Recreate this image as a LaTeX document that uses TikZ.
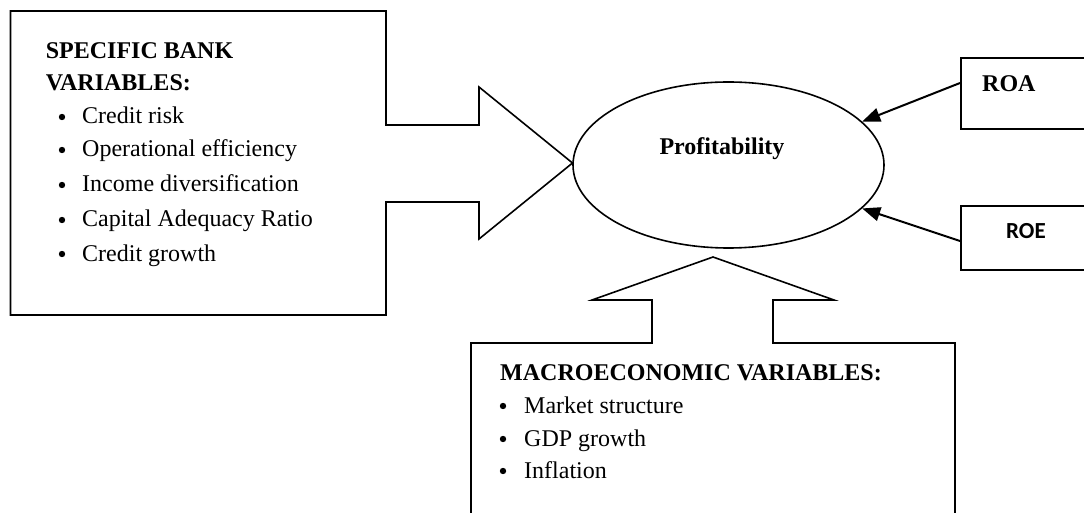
\documentclass[tikz,border=0pt]{standalone}
\usepackage{fontspec}
\setmainfont{Liberation Serif}
\newfontfamily\calfont{Carlito}
\usetikzlibrary{shapes.geometric,arrows.meta}
\begin{document}
\begin{tikzpicture}[x=1pt,y=1pt,
  outline/.style={draw=black,line width=1.6pt,line join=miter},
  txt/.style={anchor=base west,inner sep=0pt,font=\fontsize{24}{28}\selectfont},
  hd/.style={txt,font=\fontsize{24}{28}\selectfont\bfseries},
  bul/.style={circle,fill=black,inner sep=0pt,minimum size=6.4pt},
  conn/.style={draw=black,line width=2pt,-{Triangle[length=18pt,width=14pt]}}]
\useasboundingbox (0,0) rectangle (1084,512);
% left box with right arrow
\draw[outline] (10.5,501) -- (386,501) -- (386,387) -- (479,387) -- (479,425)
  -- (572.5,349) -- (479,273) -- (479,310) -- (386,310) -- (386,197)
  -- (10.5,197) -- cycle;
% bottom box with up arrow
\draw[outline] (471,-4) -- (471,169) -- (652,169) -- (652,212) -- (592,212)
  -- (713,255) -- (834,212) -- (773,212) -- (773,169) -- (955,169) -- (955,-4);
% ellipse
\node[ellipse,draw=black,line width=1.6pt,minimum width=311pt,minimum height=166pt,inner sep=0pt] (prof) at (728.5,347) {};
\node[hd,anchor=base] (proftext) at (722,357) {Profitability};
% ROA / ROE boxes
\node[outline,anchor=north west,minimum width=140pt,minimum height=71pt,inner sep=0pt] (roa) at (960,455) {};
\node[outline,anchor=north west,minimum width=140pt,minimum height=64pt,inner sep=0pt] (roe) at (960,307) {};
\node[hd] (roat) at (982,420) {ROA};
\node[txt,font=\fontsize{23}{26}\selectfont\calfont\bfseries] (roet) at (1006,273) {ROE};
\coordinate (roaS) at (960,429);
\coordinate (roeS) at (960,271);
\draw[conn] (roaS) -- (prof.18);
\draw[conn] (roeS) -- (prof.-18);
% left box text
\node[hd] (h1) at (45.7,453) {SPECIFIC BANK};
\node[hd] (h2) at (45.7,421) {VARIABLES:};
\node[bul] (b1) at (62,395) {};
\node[txt] (t1) at (82,388) {Credit risk};
\node[bul] (b2) at (62,362) {};
\node[txt] (t2) at (82,355) {Operational efficiency};
\node[bul] (b3) at (62,327) {};
\node[txt] (t3) at (82,320) {Income diversification};
\node[bul] (b4) at (62,292) {};
\node[txt] (t4) at (82,285) {Capital Adequacy Ratio};
\node[bul] (b5) at (62,258) {};
\node[txt] (t5) at (82,251) {Credit growth};
% bottom box text
\node[hd] (m0) at (500,132) {MACROECONOMIC VARIABLES:};
\node[bul] (mb1) at (503,106) {};
\node[txt] (m1) at (524,99) {Market structure};
\node[bul] (mb2) at (503,73) {};
\node[txt] (m2) at (524,66) {GDP growth};
\node[bul] (mb3) at (503,41) {};
\node[txt] (m3) at (524,34) {Inflation};
\end{tikzpicture}
\end{document}
